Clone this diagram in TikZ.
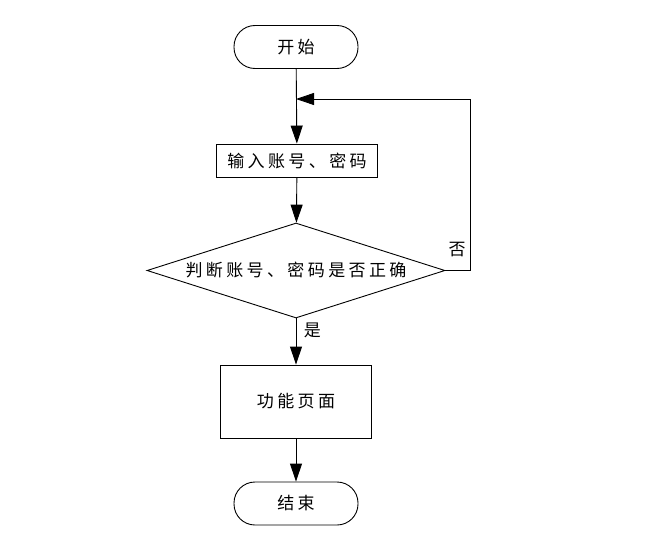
\documentclass[tikz,border=0pt]{standalone}
\usepackage{fontspec}
\setmainfont{Noto Sans CJK SC}[LetterSpace=20]
\usetikzlibrary{arrows.meta,shapes.geometric}
\begin{document}
\begin{tikzpicture}[x=1pt,y=-1pt,line width=0.9pt,
  every node/.style={font=\fontsize{17pt}{19pt}\selectfont},
  term/.style={draw,rounded corners=21pt,minimum width=124pt,minimum height=43pt},
  box/.style={draw,minimum width=#1,inner sep=0pt},
  judgebox/.style={draw,diamond,aspect=3.1,minimum width=298pt,minimum height=95pt,inner sep=0pt},
  flow/.style={-{Triangle[length=18pt,width=12pt]}}]
\useasboundingbox (0,0) rectangle (664,538);
\node[term] (start) at (296,47) {开始};
\node[box=161pt,minimum height=33pt] (input) at (297,160.5) {输入账号、密码};
\node[judgebox] (judge) at (296,270.5) {};
\node at (296,270.5) {判断账号、密码是否正确};
\node[box=151pt,minimum height=73pt] (func) at (296,401.5) {功能页面};
\node[term] (end) at (296,503.5) {结束};
\coordinate (join) at (296,99);
\draw[flow] (start) -- (input);
\draw[flow] (input) -- (judge);
\draw[flow] (judge) -- (func) node[pos=0.25,right,xshift=4pt] {是};
\draw[flow] (func) -- (end);
\draw[flow] (judge.east) -- ++(25,0) |- (join) node[pos=0.06,left,xshift=-1pt] {否};
\end{tikzpicture}
\end{document}
